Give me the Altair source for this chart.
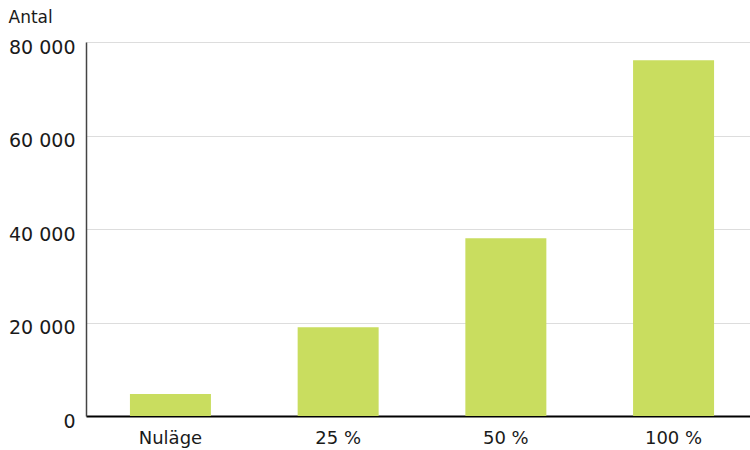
import altair as alt
import pandas as pd

# Number of units per scenario
scenarios = ["Nuläge", "25 %", "50 %", "100 %"]
counts = [4700, 19000, 38000, 76100]

df = pd.DataFrame({"scenario": scenarios, "antal": counts})

FONT = "DejaVu Sans"

chart = (
    alt.Chart(df)
    .mark_bar(color="#c9dd5f")
    .encode(
        x=alt.X(
            "scenario:N",
            sort=scenarios,
            title=None,
            scale=alt.Scale(paddingInner=0.517, paddingOuter=0.262, range=[0, 672]),
            axis=alt.Axis(
                labelAngle=0,
                labelFontSize=18,
                labelColor="#1a1a1a",
                labelFont=FONT,
                labelPadding=13,
                ticks=False,
                domainColor="#000000",
                domainWidth=2,
            ),
        ),
        y=alt.Y(
            "antal:Q",
            title="Antal",
            scale=alt.Scale(domain=[0, 80000], nice=False),
            axis=alt.Axis(
                values=[0, 20000, 40000, 60000, 80000],
                labelExpr="replace(format(datum.value, ','), ',', ' ')",
                labelFontSize=19,
                labelColor="#1a1a1a",
                labelFont=FONT,
                labelPadding=11,
                labelOffset=5,
                ticks=False,
                domainColor="#444444",
                domainWidth=1.5,
                gridColor="#dddddd",
                gridWidth=1,
                titleAngle=0,
                titleFont=FONT,
                titleFontSize=17,
                titleFontWeight="normal",
                titleColor="#1a1a1a",
                titleAlign="left",
                titleBaseline="middle",
                titleX=-78,
                titleY=-25,
            ),
        ),
    )
    .properties(
        width=664,
        height=374,
        autosize=alt.AutoSizeParams(type="none"),
        padding={"left": 86, "top": 42, "right": 0, "bottom": 34},
    )
    .configure_view(stroke=None)
)

chart.save("out.html", embed_options={"renderer": "svg", "actions": False})
